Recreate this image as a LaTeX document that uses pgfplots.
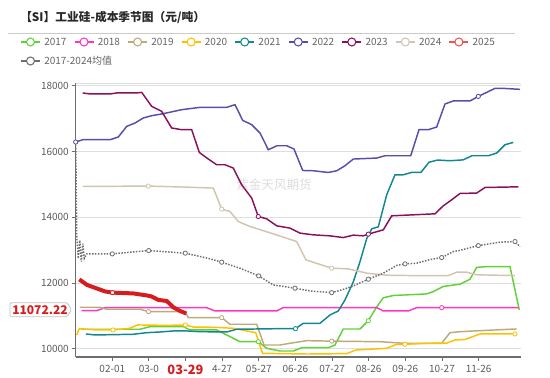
\documentclass[border=0pt]{standalone}
\usepackage{fontspec}
\setmainfont{Noto Sans CJK SC}
\usepackage{pgfplots}
\pgfplotsset{compat=1.18}
\definecolor{c17}{RGB}{95,210,55}
\definecolor{c18}{RGB}{255,55,190}
\definecolor{c19}{RGB}{188,170,122}
\definecolor{c20}{RGB}{255,192,0}
\definecolor{c21}{RGB}{18,135,145}
\definecolor{c22}{RGB}{90,77,170}
\definecolor{c23}{RGB}{138,16,94}
\definecolor{c24}{RGB}{210,196,176}
\definecolor{c25}{RGB}{215,28,32}
\definecolor{c25l}{RGB}{235,85,85}
\definecolor{cavg}{RGB}{110,110,110}
\definecolor{gridc}{RGB}{222,222,222}
\definecolor{axisc}{RGB}{110,110,110}
\definecolor{labc}{RGB}{90,90,90}
\definecolor{legc}{RGB}{100,100,100}
\definecolor{titc}{RGB}{40,40,40}
\definecolor{wmc}{RGB}{220,220,220}
\begin{document}
\begin{tikzpicture}
\begin{scope}[x=0.75pt,y=-0.75pt]
\path[use as bounding box] (0,0) rectangle (550,378);
\node[anchor=west, inner sep=0pt, text=titc, font=\bfseries\fontsize{8.8}{10}\selectfont] at (20,17) {【SI】工业硅-成本季节图（元/吨）};
\draw[gridc!80!gray, line width=0.75pt] (8,33.3) -- (515,33.3);
\foreach \i/\c/\t in {0/c17/2017,1/c18/2018,2/c19/2019,3/c20/2020,4/c21/2021,5/c22/2022,6/c23/2023,7/c24/2024,8/c25l/2025}{
  \pgfmathsetmacro\xx{21+53.55*\i}
  \draw[\c, line width=0.8pt] (\xx,42) -- ++(19,0);
  \draw[\c, fill=white, line width=0.8pt] (\xx+9.5,42) circle[radius=3pt];
  \node[anchor=west, inner sep=0pt, text=legc, font=\fontsize{7.5}{8}\selectfont] at (\xx+23,42) {\t};
}
\draw[cavg, line width=0.8pt] (21,61) -- ++(19,0);
\draw[cavg, fill=white, line width=0.8pt] (30.5,61) circle[radius=3pt];
\node[anchor=west, inner sep=0pt, text=legc, font=\fontsize{7.5}{8}\selectfont] at (44,61) {2017-2024均值};
\node[text=wmc, inner sep=0pt, font=\fontsize{9.4}{10}\selectfont] at (274,185) {紫金天风期货};
\end{scope}
\begin{axis}[
  at={(56.775pt,-267.75pt)}, anchor=south west,
  scale only axis, width=333.6pt, height=205.3pt,
  xmin=75.7, xmax=520.5, ymin=9747, ymax=18082,
  axis x line*=bottom, axis y line*=left,
  axis line style={-, draw=axisc, line width=1pt},
  xtick={112.3,148.9,185.5,222.2,258.8,295.4,332.1,368.7,405.3,442,478.6},
  xticklabels={02-01,03-0,{\bfseries\color{c25}\fontsize{9.6}{10}\selectfont 03-29},4-27,05-27,06-26,07-27,08-26,09-26,10-27,11-26},
  ytick={10000,12000,14000,16000,18000},
  scaled y ticks=false,
  yticklabel={\pgfmathprintnumber[fixed,precision=0,1000 sep={}]{\tick}},
  ymajorgrids, grid style={draw=gridc, line width=0.75pt},
  tick align=outside, major tick length=3pt,
  tick style={draw=axisc, line width=0.75pt},
  /pgf/number format/assume math mode=true,
  ticklabel style={font=\fontsize{7.5}{8}\selectfont, text=labc},
  yticklabel style={inner sep=0pt, anchor=east, xshift=-2pt},
  xticklabel style={inner sep=0pt, anchor=north, yshift=-3pt},
  clip=true,
]
\draw[gridc, line width=0.75pt] (rel axis cs:0,1) -- (rel axis cs:1,1);
% 2017
\addplot[c17, line width=1.1pt] coordinates {(81.7,10592) (96.7,10592) (140,10592) (150,10671) (183.3,10671) (190,10570) (216.7,10570) (223.3,10470) (230,10366) (240,10213) (258.3,10213) (266.7,10012) (280,9930) (293.3,9930) (301.7,10030) (328.3,10030) (335,10113) (343.3,10600) (360,10600) (368.3,10854) (376.7,11271) (383.3,11550) (393.3,11620) (426.7,11668) (433.3,11740) (443.3,11897) (460,11964) (470,12116) (476.7,12476) (486.7,12500) (510,12500) (519.3,11180)};
% 2018
\addplot[c18, line width=1.1pt] coordinates {(81.7,11159) (96.7,11159) (105,11250) (206.7,11250) (215,11149) (276.7,11149) (283.3,11250) (376.7,11250) (383.3,11149) (408.3,11149) (416.7,11250) (518.3,11250)};
% 2019
\addplot[c19, line width=1.1pt] coordinates {(80,11262) (100,11262) (106.7,11201) (140,11201) (148.5,11128) (185,11128) (188.3,10945) (221.7,10945) (230,10744) (256.7,10744) (264,10113) (280,10113) (290,10165) (306.7,10244) (331.7,10230) (380,10213) (403.3,10165) (441.7,10165) (450,10488) (460,10518) (480,10549) (516.7,10601)};
% 2020
\addplot[c20, line width=1.1pt] coordinates {(76.7,10418) (79.3,10610) (96.7,10570) (113,10570) (130,10622) (137.5,10723) (166.7,10710) (185.3,10723) (193.3,10660) (213.3,10652) (233.3,10622) (255.7,10488) (262.5,9860) (306.7,9838) (346.7,9850) (356,9960) (386.7,10012) (396.7,10134) (405,10134) (426.7,10165) (446.7,10170) (455,10265) (465,10280) (480,10448) (515,10448)};
% 2021
\addplot[c21, line width=1.1pt] coordinates {(86,10448) (95,10418) (133.3,10439) (146.7,10488) (160,10509) (173.3,10540) (186.7,10540) (200,10518) (226.7,10509) (236.7,10592) (280,10610) (295.5,10610) (303.3,10774) (320,10774) (330,11027) (338.3,11149) (345,11485) (353.3,12034) (360,12650) (366.7,13350) (371.7,13650) (378.3,13711) (386.7,14686) (395,15296) (403.3,15296) (412,15372) (421,15372) (429,15677) (437.5,15744) (450,15723) (463.3,15750) (471.7,15875) (488.3,15875) (496.7,15958) (505,16211) (513.3,16281)};
% 2022
\addplot[c22, line width=1.1pt] coordinates {(75.7,16293) (82.7,16363) (110,16363) (118.3,16446) (126.7,16769) (135,16872) (143.3,17025) (151.7,17095) (163.3,17156) (181.7,17278) (200,17348) (226.7,17348) (235,17430) (242.7,16952) (251.7,16821) (260,16568) (268.3,16058) (277,16180) (286.7,16180) (294,16080) (302.7,15427) (313.3,15418) (328.3,15366) (336.7,15418) (345,15571) (353.3,15775) (376.7,15805) (385,15875) (410.7,15875) (419,16668) (428.3,16668) (436.7,16750) (445,17452) (453.3,17543) (470,17543) (478.3,17683) (486.7,17805) (495,17927) (503.3,17927) (520,17897)};
% 2023
\addplot[c23, line width=1.1pt] coordinates {(82.7,17787) (90,17757) (110,17757) (116.7,17787) (136.7,17787) (141.7,17805) (151.7,17379) (161.7,17226) (171.7,16720) (181.7,16668) (191.7,16668) (199.3,15976) (208.3,15775) (216.7,15601) (225,15601) (233.3,15500) (241.7,14991) (251.7,14586) (258.3,14025) (266.7,13955) (276.7,13741) (290,13671) (300,13519) (313.3,13467) (330,13436) (343.3,13384) (353.3,13458) (363.3,13436) (368.3,13488) (383.3,13619) (391.7,14046) (435,14107) (443.3,14351) (451.7,14534) (460,14726) (476.7,14740) (485,14909) (518.3,14929)};
% 2024
\addplot[c24, line width=1.1pt] coordinates {(82.7,14939) (148.3,14952) (185,14921) (213.3,14891) (221.7,14250) (230,14177) (238.3,13872) (250,13720) (273.3,13497) (296.7,13262) (306,12704) (331.7,12451) (348.3,12430) (366.7,12299) (386.7,12238) (413.3,12226) (448.3,12226) (456.7,12329) (466.7,12329) (476.7,12250) (515,12226)};
% 2025
\addplot[c25, line width=3pt, line join=round] coordinates {(79.3,12110) (87,11942) (96.7,11835) (105,11744) (112.5,11707) (133.3,11683) (146.7,11622) (151.7,11590) (158.3,11485) (166.7,11454) (173.3,11262) (180,11149) (186.3,11072)};
% average
\addplot[cavg, line width=1.1pt, dash pattern=on 1.1pt off 1.1pt] coordinates {(75.7,16293) (76.8,13400) (78.3,12750) (79.8,13300) (81.3,12650) (82.8,13200) (84.3,12750) (86.7,12890) (112.3,12887) (148.7,12988) (185.3,12909) (208.3,12750) (221.7,12634) (240,12450) (258.7,12217) (273.3,11942) (295,11842) (310,11759) (331.7,11707) (341.7,11790) (351.7,11890) (368.3,12116) (383.3,12299) (396.7,12537) (405,12583) (416.7,12603) (430,12714) (441.7,12775) (453.3,12958) (460,12995) (478.3,13140) (500,13244) (515,13262) (520,13110)};
% symbols
\pgfplotsset{mk/.style={only marks, mark=*, mark size=1.6pt, mark options={solid, fill=white, draw=#1, line width=0.6pt}}}
\addplot[mk=c17] coordinates {(258.3,10213) (368.3,10854)};
\addplot[mk=c18] coordinates {(441.7,11250)};
\addplot[mk=c19] coordinates {(148.5,11128) (221.7,10945) (331.7,10230)};
\addplot[mk=c20] coordinates {(113,10570) (185.3,10723) (405,10134) (515,10448)};
\addplot[mk=c21] coordinates {(295.5,10610)};
\addplot[mk=c22] coordinates {(75.7,16293) (478.3,17683)};
\addplot[mk=c23] coordinates {(258.3,14025) (368.3,13488)};
\addplot[mk=c24] coordinates {(148.3,14952) (221.7,14250) (331.7,12451)};
\addplot[mk=c25] coordinates {(112.5,11707)};
\addplot[mk=cavg] coordinates {(112.3,12887) (148.7,12988) (185.3,12909) (221.7,12634) (258.7,12217) (295,11842) (331.7,11707) (368.3,12116) (405,12583) (441.7,12775) (478.3,13140) (515,13262)};
\end{axis}
\begin{scope}[x=0.75pt,y=-0.75pt]
\draw[gridc!70!gray, fill=white, line width=0.6pt, rounded corners=1pt] (10,302.7) -- (67,302.7) -- (71.5,309.7) -- (67,316.7) -- (10,316.7) -- cycle;
\node[text=c25, inner sep=0pt, font=\bfseries\fontsize{9}{10}\selectfont] at (40,309.7) {11072.22};
\end{scope}
\end{tikzpicture}
\end{document}
